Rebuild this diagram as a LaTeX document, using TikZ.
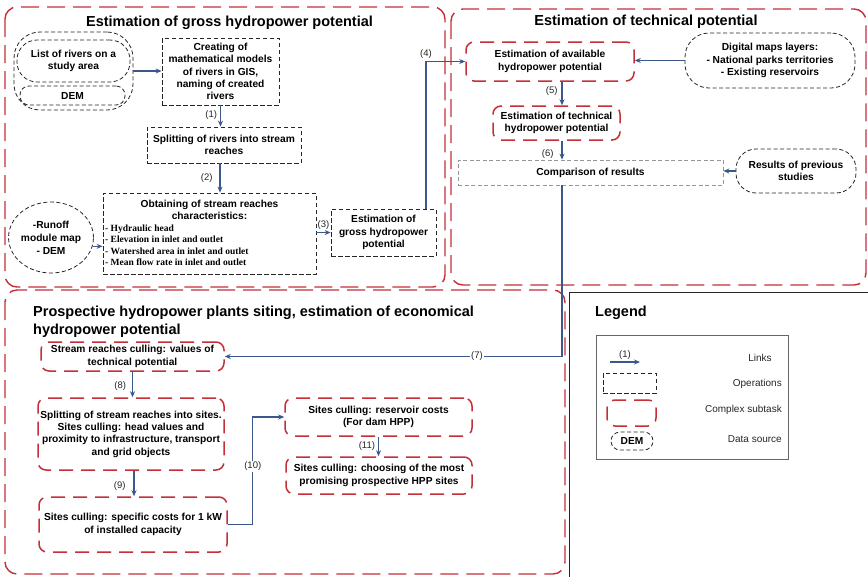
\documentclass[tikz,border=0pt]{standalone}
\usepackage{fontspec}
\setmainfont{Liberation Sans}
\newfontfamily\serifb{Liberation Serif}
\usetikzlibrary{arrows.meta,shapes.geometric}
\definecolor{redc}{RGB}{196,48,58}
\definecolor{bluec}{RGB}{58,88,138}
\definecolor{grayc}{RGB}{150,150,150}
\newcommand\boxfont{\fontsize{10.2}{12.4}\selectfont\bfseries}
\newcommand\ttlfont{\fontsize{14.5}{18}\selectfont\bfseries}
\newcommand\lblfont{\fontsize{9.5}{11}\selectfont}
\newcommand\listfont{\fontsize{9.5}{11.2}\selectfont\serifb\bfseries}
\newcommand\legfont{\fontsize{10}{12}\selectfont}
\begin{document}
\begin{tikzpicture}[x=1pt,y=-1pt,
  region/.style={draw=redc, line width=1.4pt, dash pattern=on 18pt off 8pt, rounded corners=12pt},
  cbox/.style={draw=redc, line width=1.5pt, dash pattern=on 14pt off 8pt, rounded corners=8pt, align=center, font=\boxfont, inner sep=0pt},
  opbox/.style={draw=black!85, line width=0.8pt, dash pattern=on 4.5pt off 2.5pt, align=center, font=\boxfont, inner sep=0pt},
  graybox/.style={draw=grayc, line width=0.8pt, dash pattern=on 4pt off 2.5pt, align=center, font=\boxfont, inner sep=0pt},
  dsrc/.style={draw=black!85, line width=0.8pt, dash pattern=on 4pt off 2.5pt, align=center, font=\boxfont, inner sep=0pt},
  link/.style={draw=bluec, line width=1.1pt, -{Stealth[length=6pt,width=5pt]}},
  lbl/.style={font=\lblfont, inner sep=1pt, text=black!85},
  legtxt/.style={font=\legfont, inner sep=0pt, text=black!85},
  ttl/.style={font=\ttlfont, inner sep=0pt}
]
\useasboundingbox (0,0) rectangle (868,576);
\fill[white] (0,0) rectangle (868,576);

% ---------- regions ----------
\draw[region] (5,7) rectangle (445,287);
\draw[region] (451,9) rectangle (866,285);
\draw[region] (5,290) rectangle (565,574);
\draw[black!85, line width=1pt] (569,292) rectangle (890,600);

% ---------- titles ----------
\node[ttl, anchor=base] (t1) at (229.5,26) {Estimation of gross hydropower potential};
\node[ttl, anchor=base] (t2) at (646,25) {Estimation of technical potential};
\node[ttl, anchor=base west] (t3a) at (33,316) {Prospective hydropower plants siting, estimation of economical};
\node[ttl, anchor=base west] (t3b) at (33,334) {hydropower potential};
\node[ttl, anchor=base west] (t4) at (595,316) {Legend};

% ---------- region 1 ----------
\node[dsrc, rounded corners=26pt, minimum width=119pt, minimum height=78pt] (src) at (73.5,71) {};
\node[dsrc, rounded corners=20pt, minimum width=113pt, minimum height=42pt] (rivers) at (73.5,61) {List of rivers on a\\study area};
\node[dsrc, rounded corners=9pt, minimum width=105pt, minimum height=19pt] (dem) at (72.5,95.5) {DEM};
\node[opbox, minimum width=117pt, minimum height=67pt] (create) at (220.5,71.5)
  {Creating of\\mathematical models\\of rivers in GIS,\\naming of created\\rivers};
\node[opbox, minimum width=154pt, minimum height=36pt] (split) at (224,145)
  {Splitting of rivers into stream\\reaches};
\node[opbox, minimum width=213pt, minimum height=81pt] (obtain) at (209.5,233.5) {};
\node[font=\boxfont, align=center, anchor=north, inner sep=0pt] (obtt) at (209.5,199.5)
  {Obtaining of stream reaches\\characteristics:};
\node[font=\listfont, align=left, anchor=north west, inner sep=0pt] (obtl) at (105,225)
  {- Hydraulic head\\- Elevation in inlet and outlet\\- Watershed area in inlet and outlet\\- Mean flow rate in inlet and outlet};
\node[dsrc, ellipse, minimum width=72pt, minimum height=71pt, font=\fontsize{10.2}{13}\selectfont\bfseries] (runoff) at (51,237.5)
  {-Runoff\\module map\\- DEM};
\node[opbox, minimum width=105pt, minimum height=47pt] (gross) at (383.5,232.5)
  {Estimation of\\gross hydropower\\potential};

% ---------- region 2 ----------
\node[cbox, minimum width=168pt, minimum height=39pt] (avail) at (550,61.5)
  {Estimation of available\\hydropower potential};
\node[dsrc, rounded corners=24pt, minimum width=170pt, minimum height=55pt] (digital) at (770,60.5)
  {Digital maps layers:\\- National parks territories\\- Existing reservoirs};
\node[cbox, minimum width=127pt, minimum height=34pt] (tech) at (556.5,123)
  {Estimation of technical\\hydropower potential};
\node[graybox, minimum width=265pt, minimum height=25pt] (comp) at (590.5,172.5)
  {Comparison of results};
\node[dsrc, rounded corners=20pt, minimum width=120pt, minimum height=44pt] (results) at (796,171)
  {Results of previous\\studies};

% ---------- region 3 ----------
\node[cbox, minimum width=183pt, minimum height=29pt] (stream) at (132.5,356.5)
  {Stream reaches culling: values of\\technical potential};
\node[cbox, minimum width=186pt, minimum height=72pt] (sites) at (131,434)
  {Splitting of stream reaches into sites.\\Sites culling: head values and\\proximity to infrastructure, transport\\and grid objects};
\node[cbox, minimum width=188pt, minimum height=55pt] (specific) at (133,524.5)
  {Sites culling: specific costs for 1 kW\\of installed capacity};
\node[cbox, minimum width=187pt, minimum height=38pt] (reservoir) at (378.5,417)
  {Sites culling: reservoir costs\\(For dam HPP)};
\node[cbox, minimum width=186pt, minimum height=37pt] (choose) at (379,475.5)
  {Sites culling: choosing of the most\\promising prospective HPP sites};

% ---------- legend ----------
\node[draw=black!60, line width=0.8pt, minimum width=192pt, minimum height=124pt, inner sep=0pt] (legbox) at (692,397) {};
\coordinate (la) at (610,362);
\coordinate (lb) at (640,362);
\draw[link] (la) -- node[lbl, above=1pt] (l1) {(1)} (lb);
\node[opbox, minimum width=53pt, minimum height=20pt] (lop) at (629.5,383) {};
\node[cbox, minimum width=49pt, minimum height=26pt] (lcx) at (631.5,413) {};
\node[dsrc, rounded corners=9pt, minimum width=42pt, minimum height=18pt] (ldem) at (632,441) {DEM};
\node[legtxt] (tlinks) at (760,358) {Links};
\node[legtxt, anchor=east] (tops) at (782,384) {Operations};
\node[legtxt, anchor=east] (tcx) at (782,410) {Complex subtask};
\node[legtxt, anchor=east] (tds) at (782,439) {Data source};

% ---------- connectors ----------
\coordinate (v5) at (562,0);
\draw[link] (src.east) -- (src.east -| create.west);
\draw[link] (create.south) -- node[lbl, left=2pt, pos=0.45] {(1)} (create.south |- split.north);
\draw[link] ([xshift=-4pt]split.south) -- node[lbl, left=6pt, pos=0.5] {(2)} ([xshift=-4pt]split.south |- obtain.north);
\draw[link] (runoff.-12) -- (runoff.-12 -| obtain.west);
\draw[link] (obtain.east |- gross.west) -- node[lbl, above=1pt] {(3)} (gross.west);
\draw[link] ([xshift=42.5pt]gross.north) |- node[lbl, pos=0.5, above=1pt] {(4)} (avail.west);
\draw[link] (digital.west) -- (digital.west -| avail.east);
\draw[link] (avail.south -| v5) -- node[lbl, left=3pt, pos=0.4] {(5)} (tech.north -| v5);
\draw[link] (tech.south -| v5) -- node[lbl, left=7pt, pos=0.7] {(6)} (comp.north -| v5);
\draw[link] (results.west) -- (results.west -| comp.east);
\draw[link] (comp.south -| v5) |- node[lbl, pos=0.626, fill=white] {(7)} (stream.east);
\draw[link] (stream.south) -- node[lbl, left=5pt, pos=0.55] {(8)} (stream.south |- sites.north);
\draw[link] ([xshift=3pt]sites.south) -- node[lbl, left=7pt, pos=0.6] {(9)} ([xshift=3pt]sites.south |- specific.north);
\draw[link] (specific.east) -- ++(25,0) |- node[lbl, pos=0.27, fill=white] {(10)} (reservoir.west);
\draw[link] (reservoir.south) -- node[lbl, left=2pt, pos=0.5] {(11)} (reservoir.south |- choose.north);
\end{tikzpicture}
\end{document}
